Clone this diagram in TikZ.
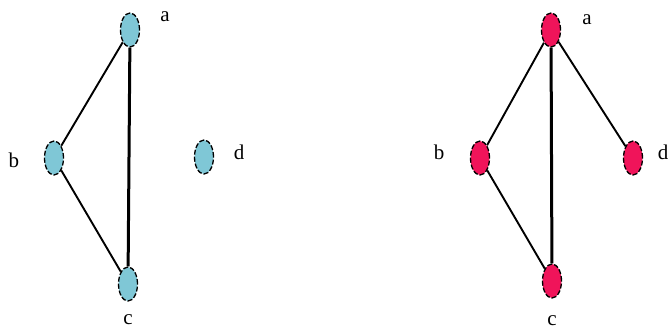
\documentclass[tikz,border=0pt]{standalone}
\usepackage{fontspec}
\setmainfont{Liberation Serif}
\usetikzlibrary{shapes.geometric,positioning}
\definecolor{vblue}{RGB}{127,199,214}
\definecolor{vpink}{RGB}{240,20,90}

\begin{document}
\begin{tikzpicture}[x=1pt, y=-1pt, font=\fontsize{21}{23}\selectfont,
    vertex/.style={ellipse, draw=black, dash pattern=on 5pt off 2pt, line width=1.3pt, minimum width=19pt, minimum height=34pt, inner sep=0pt},
    edge/.style={line width=1.9pt},
    chord/.style={line width=3pt}]
       \useasboundingbox (0,0) rectangle (670,335);
       % left graph
       \foreach \x/\y/\name in {130/30/la,54/158/lb,128/284/lc,204/157/ld}{\node[vertex, fill=vblue] (\name) at (\x,\y) {};}
       \foreach \x/\y/\name/\txt in {165/17/lla/a,14/160/llb/b,128/320/llc/c,239/152/lld/d}{\node (\name) at (\x,\y) {\txt};}
       \draw[edge] (la) -- (lb);
       \draw[edge] (lb) -- (lc);
       \draw[chord] (la) -- (lc);
       % right graph
       \foreach \x/\y/\name in {551/30/ra,480/158/rb,552/281/rc,633/158/rd}{\node[vertex, fill=vpink] (\name) at (\x,\y) {};}
       \foreach \x/\y/\name/\txt in {587/20/lra/a,439/152/lrb/b,552/321/lrc/c,663/152/lrd/d}{\node (\name) at (\x,\y) {\txt};}
       \draw[edge] (ra) -- (rb);
       \draw[edge] (rb) -- (rc);
       \draw[edge] (ra) -- (rd);
       \draw[chord] (ra) -- (rc);
\end{tikzpicture}
\end{document}
